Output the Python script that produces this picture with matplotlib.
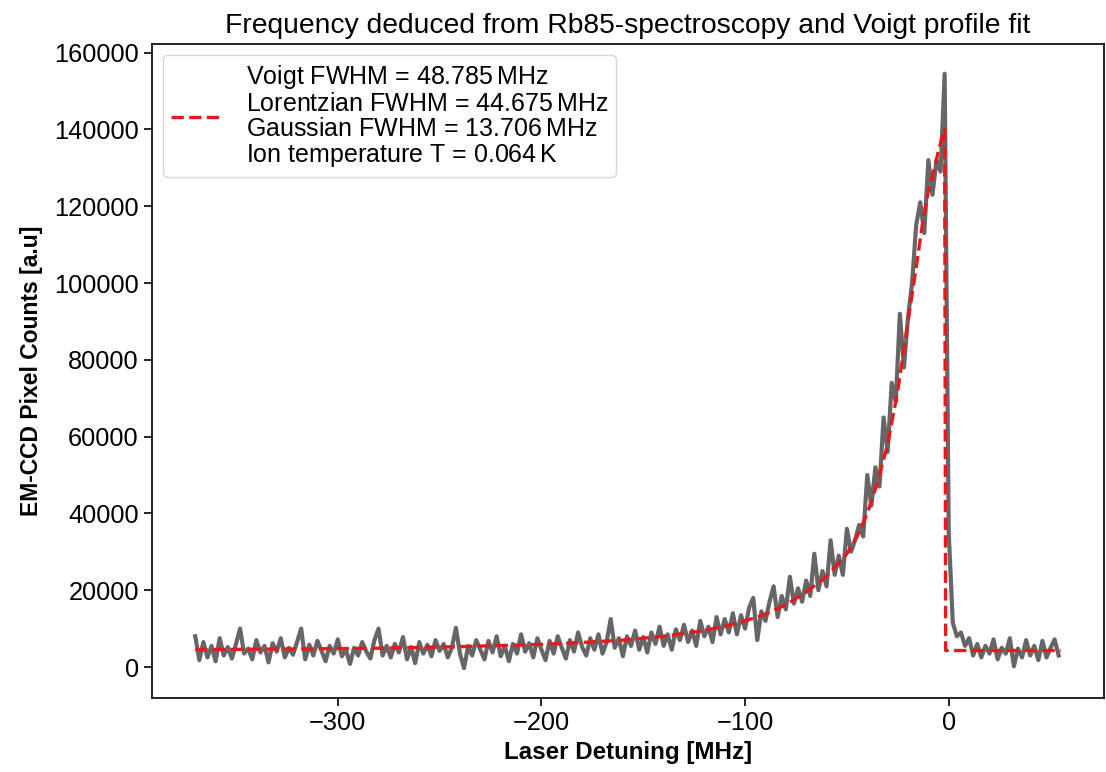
import numpy as np
import matplotlib
matplotlib.use("Agg")
import matplotlib.pyplot as plt

plt.rcParams['font.family'] = ['Liberation Sans', 'DejaVu Sans']

# Measured data: laser detuning grid (MHz) and EM-CCD counts
detuning = np.arange(-370, 55, 2)
counts = [
    8000, 1800, 6500, 2500, 5500, 1500, 7500, 3000, 5200, 2200,
    6000, 10000, 3500, 4800, 2000, 7000, 3800, 5500, 1200, 6200,
    4000, 7500, 2500, 5000, 3200, 6500, 10000, 2000, 5800, 3000,
    6800, 4200, 1500, 5500, 3500, 7200, 2800, 4500, 800, 5000,
    3000, 6500, 4000, 2200, 7000, 10000, 3000, 5500, 2500, 6000,
    3800, 7800, 2000, 5200, 1000, 6500, 3500, 5800, 2800, 7000,
    4200, 6000, 2500, 5000, 10200, 3500, -300, 5500, 3000, 7000,
    4500, 2000, 6800, 3800, 8000, 2800, 5500, 1500, 6000, 3500,
    8500, 4000, 6200, 2500, 7500, 4500, 1800, 6800, 3500, 8000,
    5000, 2200, 7000, 4000, 9000, 5200, 3000, 7500, 4500, 8500,
    3500, 6500, 12500, 5000, 7500, 2800, 8000, 5500, 9500, 4500,
    7800, 3800, 9000, 6000, 10500, 5500, 8500, 4500, 9800, 7000,
    11000, 6500, 9500, 5500, 12000, 8000, 10500, 6500, 13000, 8500,
    12500, 9000, 14000, 8500, 13500, 10000, 15500, 18000, 7000, 14500,
    12000, 17000, 21000, 13000, 18500, 15000, 23500, 16500, 20500, 17000,
    22500, 18500, 29500, 20000, 25000, 21000, 33000, 24000, 29000, 24000,
    36000, 30000, 33000, 37000, 34000, 50000, 42000, 52000, 47000, 65000,
    56000, 74000, 69000, 92000, 78000, 91000, 100000, 115000, 121000, 113000,
    132000, 123000, 132000, 129000, 154500, 35000, 11500, 8000, 9000, 5500,
    7500, 3000, 6000, 2500, 5500, 3500, 7200, 2000, 5000, 3500,
    7500, 200, 4800, 2500, 7000, 3000, 5500, 1800, 6800, 2500,
    5000, 7200, 3000,
]

# Voigt profile fit
fit_detuning = [-370, -350, -320, -300, -280, -260, -240, -220, -200, -180,
                -160, -140, -120, -110, -100, -90, -80, -70, -60, -50,
                -45, -40, -35, -30, -25, -20, -16, -13, -10, -7,
                -5, -3, -2, -1.5, 55]
fit_counts = [4500, 4600, 4700, 4800, 4900, 5100, 5300, 5600, 5900, 6400,
              7000, 8000, 9500, 10600, 12000, 13800, 16200, 19500, 23500, 29500,
              34000, 40000, 48000, 58000, 72000, 90000, 104000, 115000, 124000, 130000,
              134500, 138500, 140000, 4300, 4300]

fit_label = ("Voigt FWHM = 48.785$\\,$MHz\n"
             "Lorentzian FWHM = 44.675$\\,$MHz\n"
             "Gaussian FWHM = 13.706$\\,$MHz\n"
             "Ion temperature T = 0.064$\\,$K")

fig = plt.figure(figsize=(11.06, 7.72), dpi=100)
ax = fig.add_axes([0.1374, 0.096, 0.8608, 0.847])

ax.plot(detuning, counts, color='#666666', lw=3.0, zorder=2)
ax.plot(fit_detuning, fit_counts, color='#e8191c', lw=2.4, ls='--',
        label=fit_label, zorder=3)

ax.set_xticks([-300, -200, -100, 0])
ax.set_yticks(np.arange(0, 160001, 20000))
ax.tick_params(labelsize=18.3, length=6, width=1.2)
for s in ax.spines.values():
    s.set_linewidth(1.2)

ax.set_title("Frequency deduced from Rb85-spectroscopy and Voigt profile fit",
             fontsize=20.3, pad=8)
ax.set_xlabel("Laser Detuning [MHz]", fontsize=17.4, fontweight='bold',
              labelpad=4)
ax.set_ylabel("EM-CCD Pixel Counts [a.u]", fontsize=16.5, fontweight='bold',
              labelpad=8)

leg = ax.legend(loc='upper left', fontsize=18.0, handlelength=2.0,
                borderaxespad=0.45, borderpad=0.3, handletextpad=1.0)
for t in leg.get_texts():
    t.set_linespacing(1.06)

fig.savefig("out.png", dpi=100)
